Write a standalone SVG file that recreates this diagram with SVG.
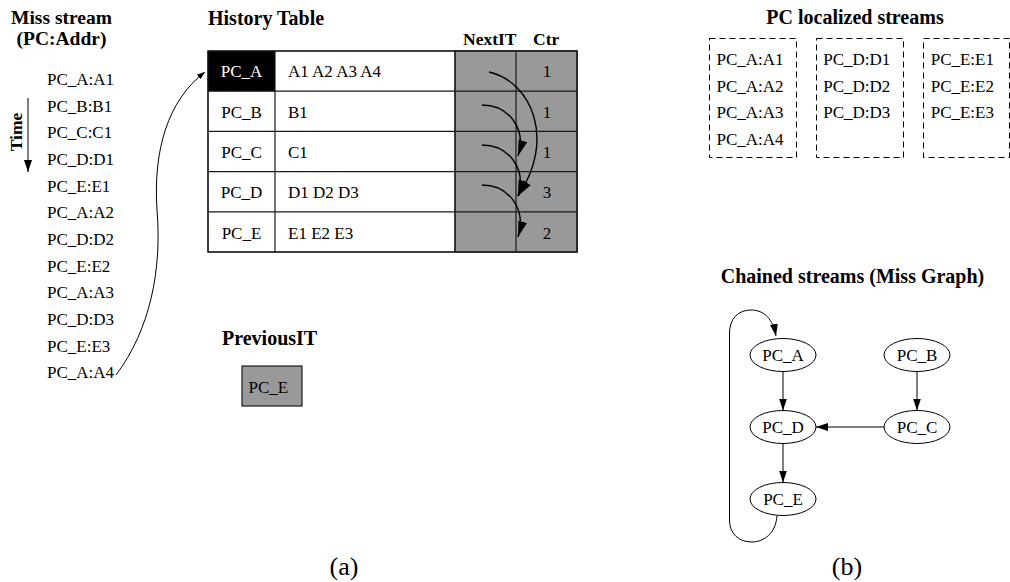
<svg xmlns="http://www.w3.org/2000/svg" width="1010" height="582" viewBox="0 0 1010 582">
  <style>
    text { font-family: "Liberation Serif", "Times New Roman", serif; fill: #000; }
    .t { font-size: 17px; }
    .h { font-size: 20px; font-weight: bold; }
    .hs { font-size: 17.5px; font-weight: bold; }
    .cap { font-size: 26px; }
    .mid { text-anchor: middle; }
    .cell { fill: #fff; stroke: #1a1a1a; stroke-width: 1.2; }
    .gray { fill: #999; stroke: #1a1a1a; stroke-width: 1.2; }
    .grid { stroke: #1a1a1a; stroke-width: 1.2; fill: none; }
    .dash { fill: none; stroke: #000; stroke-width: 1; stroke-dasharray: 6 4; }
    .node { fill: #fff; stroke: #000; stroke-width: 1; }
    .edge { fill: none; stroke: #000; stroke-width: 1; }
    .arc { fill: none; stroke: #000; stroke-width: 1.4; }
  </style>
  <defs>
    <marker id="head" markerUnits="userSpaceOnUse" markerWidth="14" markerHeight="10" refX="12" refY="4" orient="auto">
      <path d="M0,0 L12,4 L0,8 Z" fill="#000"/>
    </marker>
    <marker id="headBig" markerUnits="userSpaceOnUse" markerWidth="18" markerHeight="10" refX="16" refY="4.5" orient="auto">
      <path d="M0,0 L16,4.5 L0,9 Z" fill="#000"/>
    </marker>
    <marker id="headSmall" markerUnits="userSpaceOnUse" markerWidth="10" markerHeight="8" refX="8" refY="3" orient="auto">
      <path d="M0,0 L8,3 L0,6 Z" fill="#000"/>
    </marker>
  </defs>

  <!-- Miss stream column -->
  <g id="miss-stream">
    <text class="h mid" x="61.5" y="24" style="font-size:19.5px">Miss stream</text>
    <text class="h mid" x="61.5" y="44.5" style="font-size:19.5px">(PC:Addr)</text>
    <text class="t" x="47" y="85">PC_A:A1</text>
    <text class="t" x="47" y="111.7">PC_B:B1</text>
    <text class="t" x="47" y="138.3">PC_C:C1</text>
    <text class="t" x="47" y="165">PC_D:D1</text>
    <text class="t" x="47" y="191.7">PC_E:E1</text>
    <text class="t" x="47" y="218.3">PC_A:A2</text>
    <text class="t" x="47" y="245">PC_D:D2</text>
    <text class="t" x="47" y="271.7">PC_E:E2</text>
    <text class="t" x="47" y="298.3">PC_A:A3</text>
    <text class="t" x="47" y="325">PC_D:D3</text>
    <text class="t" x="47" y="351.7">PC_E:E3</text>
    <text class="t" x="47" y="378.3">PC_A:A4</text>
  </g>

  <!-- time axis -->
  <g id="time-axis">
    <line class="edge" x1="28" y1="98" x2="28" y2="172" marker-end="url(#head)"/>
    <text class="hs mid" transform="translate(21.5,132) rotate(-90)">Time</text>
  </g>

  <!-- History table -->
  <g id="history-table">
    <text class="h" x="208" y="25">History Table</text>
    <text class="hs" x="463" y="45">NextIT</text>
    <text class="hs" x="533" y="45">Ctr</text>
    <rect class="cell" x="208" y="51" width="369" height="201"/>
    <rect class="gray" x="455" y="51" width="122" height="201"/>
    <rect x="208" y="51" width="67" height="40.2" fill="#000"/>
    <path class="grid" d="M208,91.2 H577 M208,131.4 H577 M208,171.6 H577 M208,211.8 H577 M275,51 V252 M455,51 V252 M516,51 V252"/>
    <rect class="grid" x="208" y="51" width="369" height="201"/>

    <text class="t mid" x="241.5" y="77.3" style="fill:#fff">PC_A</text>
    <text class="t mid" x="241.5" y="118">PC_B</text>
    <text class="t mid" x="241.5" y="158.2">PC_C</text>
    <text class="t mid" x="241.5" y="198.4">PC_D</text>
    <text class="t mid" x="241.5" y="238.6">PC_E</text>

    <text class="t" x="288" y="77.3">A1 A2 A3 A4</text>
    <text class="t" x="288" y="118">B1</text>
    <text class="t" x="288" y="158.2">C1</text>
    <text class="t" x="288" y="198.4">D1 D2 D3</text>
    <text class="t" x="288" y="238.6">E1 E2 E3</text>

    <text class="t mid" x="547" y="77.3">1</text>
    <text class="t mid" x="547" y="118">1</text>
    <text class="t mid" x="547" y="158.2">1</text>
    <text class="t mid" x="547" y="198.4">3</text>
    <text class="t mid" x="547" y="238.6">2</text>
  </g>

  <!-- PreviousIT register -->
  <g id="previous-it">
    <text class="h" x="222" y="345">PreviousIT</text>
    <rect class="gray" x="242" y="366" width="60" height="40"/>
    <text class="t" x="248.5" y="393.3">PC_E</text>
  </g>

  <!-- PC localized streams -->
  <g id="localized-streams">
    <text class="h mid" x="855" y="24">PC localized streams</text>
    <rect class="dash" x="709.5" y="38.5" width="87" height="119"/>
    <rect class="dash" x="816.5" y="38.5" width="87" height="119"/>
    <rect class="dash" x="923.5" y="38.5" width="86" height="119"/>
    <text class="t" x="716.5" y="65">PC_A:A1</text>
    <text class="t" x="716.5" y="91.7">PC_A:A2</text>
    <text class="t" x="716.5" y="118.3">PC_A:A3</text>
    <text class="t" x="716.5" y="145">PC_A:A4</text>
    <text class="t" x="823.3" y="65">PC_D:D1</text>
    <text class="t" x="823.3" y="91.7">PC_D:D2</text>
    <text class="t" x="823.3" y="118.3">PC_D:D3</text>
    <text class="t" x="930.7" y="65">PC_E:E1</text>
    <text class="t" x="930.7" y="91.7">PC_E:E2</text>
    <text class="t" x="930.7" y="118.3">PC_E:E3</text>
  </g>

  <!-- Miss graph -->
  <text class="h mid" x="852.5" y="283">Chained streams (Miss Graph)</text>
  <g id="node-pc-a">
    <ellipse class="node" cx="783" cy="355" rx="33" ry="16.5"/>
    <text class="t mid" x="783" y="361">PC_A</text>
  </g>
  <g id="node-pc-b">
    <ellipse class="node" cx="917" cy="355" rx="33" ry="16.5"/>
    <text class="t mid" x="917" y="361">PC_B</text>
  </g>
  <g id="node-pc-d">
    <ellipse class="node" cx="783" cy="427" rx="33" ry="16.5"/>
    <text class="t mid" x="783" y="433">PC_D</text>
  </g>
  <g id="node-pc-c">
    <ellipse class="node" cx="917" cy="427" rx="33" ry="16.5"/>
    <text class="t mid" x="917" y="433">PC_C</text>
  </g>
  <g id="node-pc-e">
    <ellipse class="node" cx="783" cy="499" rx="33" ry="16.5"/>
    <text class="t mid" x="783" y="505">PC_E</text>
  </g>

  <!-- connectors -->
  <g id="connectors">
    <!-- replay pointer from the latest miss back to the table entry -->
    <path class="edge" d="M116,375 C150,330 162,270 157,210 C153,150 168,100 205,72" marker-end="url(#headSmall)"/>
    <!-- NextIT links between table rows -->
    <path class="arc" d="M489,72 C532,82 556,140 518,196" marker-end="url(#headBig)"/>
    <path class="arc" d="M482,105 C508,105 527,128 518,156" marker-end="url(#headBig)"/>
    <path class="arc" d="M482,145 C508,145 527,168 518,196" marker-end="url(#headBig)"/>
    <path class="arc" d="M482,185 C508,185 527,208 518,237" marker-end="url(#headBig)"/>
    <!-- miss graph edges -->
    <line class="edge" x1="783" y1="371.5" x2="783" y2="410.5" marker-end="url(#head)"/>
    <line class="edge" x1="917" y1="371.5" x2="917" y2="410.5" marker-end="url(#head)"/>
    <line class="edge" x1="884" y1="427" x2="816" y2="427" marker-end="url(#head)"/>
    <line class="edge" x1="783" y1="443.5" x2="783" y2="482.5" marker-end="url(#head)"/>
    <path class="edge" d="M777,515.5 C776,533 764,542 752,542 C738,542 729.5,533 729.5,520 L729.5,333 C729.5,319 738,310 751,310 C764,310 773,319 776,336" marker-end="url(#head)"/>
  </g>

  <!-- sub-figure captions -->
  <text class="cap mid" x="344" y="575">(a)</text>
  <text class="cap mid" x="847" y="575">(b)</text>
</svg>
